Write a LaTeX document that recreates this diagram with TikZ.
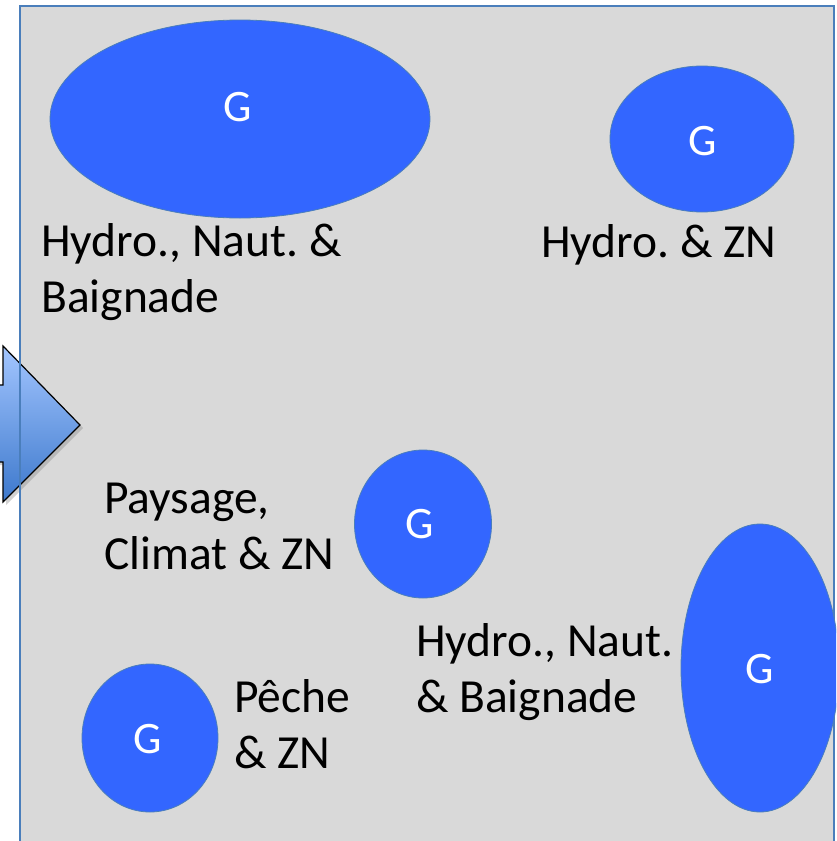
\documentclass[tikz,border=0pt]{standalone}
\usepackage{fontspec}
\setmainfont{Carlito}
\frenchspacing
\usetikzlibrary{shadows,shapes.geometric}
\definecolor{panelgray}{HTML}{D9D9D9}
\definecolor{panelline}{HTML}{4A7EBB}
\definecolor{blobblue}{HTML}{3366FF}
\definecolor{arrowtop}{HTML}{A3C6FF}
\definecolor{arrowbot}{HTML}{3D78CC}
\tikzset{
  blob/.style={ellipse, fill=blobblue, draw=panelline, line width=0.8pt, inner sep=0pt},
  gtext/.style={text=white, font=\fontsize{45}{54}\selectfont, inner sep=0pt},
  lbl/.style={align=left, anchor=base west, inner sep=0pt, font=\fontsize{47.5}{56}\selectfont\frenchspacing},
}
\begin{document}
\begin{tikzpicture}[x=1pt,y=-1pt]
\useasboundingbox (0,0) rectangle (836,841);
\clip (0,0) rectangle (836,841);
\fill[white] (0,0) rectangle (836,841);
\fill[panelgray] (20,6) rectangle (834,870);
% arrow
\path[draw=black, line width=1.2pt, top color=arrowtop, bottom color=arrowbot,
      drop shadow={shadow xshift=3pt, shadow yshift=-3pt, opacity=0.35}]
  (-30,385) -- (3,385) -- (3,346) -- (80,425) -- (3,502) -- (3,462) -- (-30,462) -- cycle;
\draw[panelline, line width=1.5pt] (20,870) -- (20,6) -- (834,6) -- (834,870);
% ellipses
\node[blob, minimum width=380pt, minimum height=198pt] (e1) at (240,119) {};
\node[gtext] (g1) at (238,107) {G};
\node[blob, minimum width=184pt, minimum height=146pt] (e2) at (702,139) {};
\node[gtext] (g2) at (703,141) {G};
\node[blob, minimum width=137pt, minimum height=148pt] (e3) at (423,524) {};
\node[gtext] (g3) at (420,524) {G};
\node[blob, minimum width=136pt, minimum height=148pt] (e4) at (150,738) {};
\node[gtext] (g4) at (148,739) {G};
\node[blob, minimum width=158pt, minimum height=288pt] (e5) at (760,668) {};
\node[gtext] (g5) at (760,669) {G};
% labels
\node[lbl] (l1) at (41,312) {Hydro., Naut. \&\\Baignade};
\node[lbl] (l2) at (541,257) {Hydro. \& ZN};
\node[lbl] (l3) at (104,569) {Paysage,\\Climat \& ZN};
\node[lbl] (l4) at (416,712) {Hydro., Naut.\\\& Baignade};
\node[lbl] (l5) at (234,768) {Pêche\\\& ZN};
\end{tikzpicture}
\end{document}
